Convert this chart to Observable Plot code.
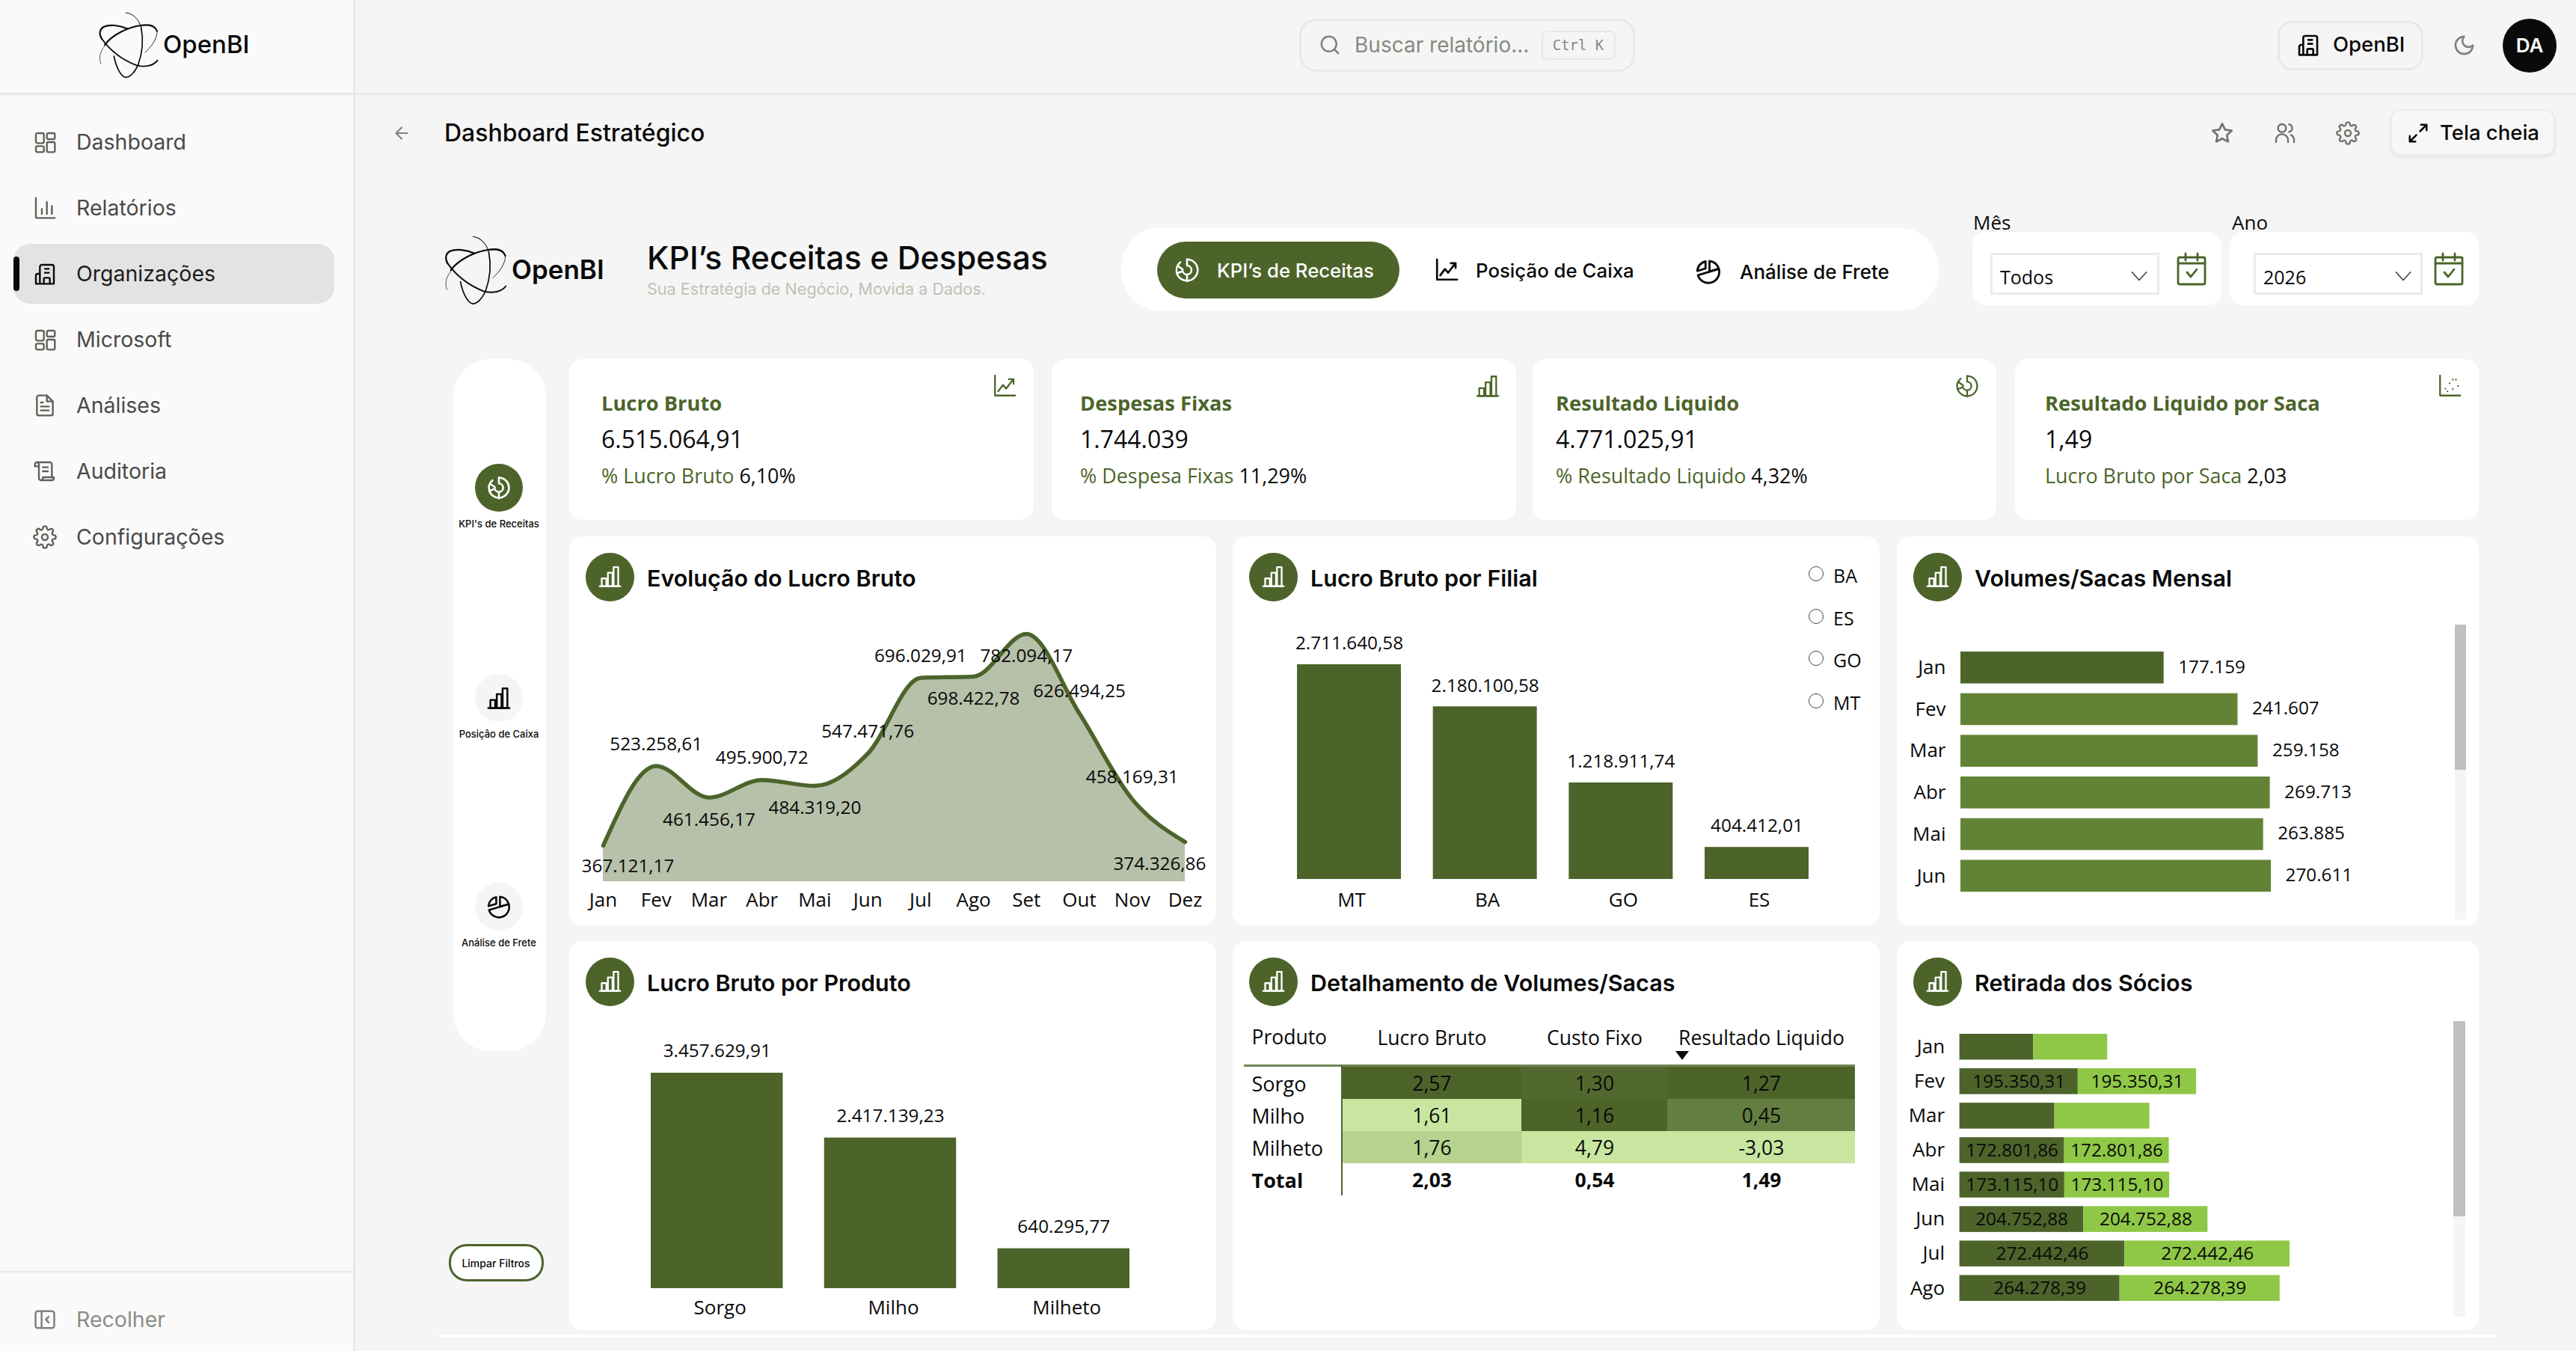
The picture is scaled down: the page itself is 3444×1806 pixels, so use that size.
<!DOCTYPE html>
<html lang="pt-BR">
<head>
<meta charset="utf-8">
<title>Dashboard Estratégico</title>
<script src="https://cdn.jsdelivr.net/npm/d3@7"></script>
<script src="https://cdn.jsdelivr.net/npm/@observablehq/plot@0.6"></script>
<style>
html,body{margin:0;padding:0;background:#f5f5f5}
body{width:3444px;height:1806px;position:relative;overflow:hidden;font-family:Inter,sans-serif;color:#0a0a0a}
.box{position:absolute;box-sizing:border-box}
.t{position:absolute;white-space:nowrap;transform:translateY(-50%);line-height:1}
.tc{position:absolute;white-space:nowrap;transform:translate(-50%,-50%);line-height:1}
.ic{position:absolute;overflow:visible;fill:none;stroke-linecap:round;stroke-linejoin:round}
.plot{position:absolute}
.plot svg{display:block;background:transparent;overflow:visible}
</style>
</head>
<body>
<script>
// ---------- data ----------
const months = ["Jan","Fev","Mar","Abr","Mai","Jun","Jul","Ago","Set","Out","Nov","Dez"];
const lucroMensal = [367121.17,523258.61,461456.17,495900.72,484319.20,547471.76,696029.91,698422.78,782094.17,626494.25,458169.31,374326.86];
const labelsAcima = ["Fev","Abr","Jun","Jul","Out","Nov"];
const labelsAbaixo = ["Mar","Mai","Ago","Set"];

const filiais = ["MT","BA","GO","ES"];
const lucroFilial = [2711640.58,2180100.58,1218911.74,404412.01];
const legendaFiliais = ["BA","ES","GO","MT"];

const volumeMeses = ["Jan","Fev","Mar","Abr","Mai","Jun"];
const volumes = [177159,241607,259158,269713,263885,270611];

const produtos = ["Sorgo","Milho","Milheto"];
const lucroProduto = [3457629.91,2417139.23,640295.77];

const linhasTabela = ["Sorgo","Milho","Milheto","Total"];
const lucroSaca = [2.57,1.61,1.76,2.03];
const custoSaca = [1.30,1.16,4.79,0.54];
const resultadoSaca = [1.27,0.45,-3.03,1.49];

const retiradaMeses = ["Jan","Fev","Mar","Abr","Mai","Jun","Jul","Ago"];
const retirada = [122000,195350.31,156800,172801.86,173115.10,204752.88,272442.46,264278.39];
const retiradaSemRotulo = ["Jan","Mar"];

const kpis = [
  ["Lucro Bruto","6.515.064,91","% Lucro Bruto","6,10%"],
  ["Despesas Fixas","1.744.039","% Despesa Fixas","11,29%"],
  ["Resultado Liquido","4.771.025,91","% Resultado Liquido","4,32%"],
  ["Resultado Liquido por Saca","1,49","Lucro Bruto por Saca","2,03"]
];
const menu = ["Dashboard","Relatórios","Organizações","Microsoft","Análises","Auditoria","Configurações"];

// ---------- helpers ----------
const DARK="#4c642a", MID="#628335", LIGHT="#8fc846", BAND="Open Sans, sans-serif";
const fmt2 = d3.formatLocale({decimal:",",thousands:".",grouping:[3],currency:["",""]}).format(",.2f");
const fmt0 = d3.formatLocale({decimal:",",thousands:".",grouping:[3],currency:["",""]}).format(",.0f");
const body=document.body;
function box(x,y,w,h,st=""){const d=document.createElement("div");d.className="box";d.style.cssText=`left:${x}px;top:${y}px;width:${w}px;height:${h}px;${st}`;body.appendChild(d);return d}
function txt(x,y,s,st="",cls="t"){const d=document.createElement("div");d.className=cls;d.style.cssText=`left:${x}px;top:${y}px;${st}`;d.innerHTML=s;body.appendChild(d);return d}
function icon(x,y,size,color,inner,sw=2){const d=document.createElementNS("http://www.w3.org/2000/svg","svg");d.setAttribute("class","ic");d.setAttribute("viewBox","0 0 24 24");d.setAttribute("width",size);d.setAttribute("height",size);d.style.left=x+"px";d.style.top=y+"px";d.style.stroke=color;d.style.strokeWidth=sw;d.innerHTML=inner;body.appendChild(d);return d}
function place(p,x,y){const d=document.createElement("div");d.className="plot";d.style.left=x+"px";d.style.top=y+"px";d.appendChild(p);body.appendChild(d)}
const I={
 grid:'<rect x="3" y="3" width="8" height="10" rx="1.5"/><rect x="14" y="3" width="8" height="6" rx="1.5"/><rect x="14" y="12" width="8" height="10" rx="1.5"/><rect x="3" y="16" width="8" height="6" rx="1.5"/>',
 report:'<path d="M3 2v19a1 1 0 0 0 1 1h18"/><path d="M9 18v-5M14 18V6M19 18v-8"/>',
 build:'<path d="M7 22V5a2 2 0 0 1 2-2h10a2 2 0 0 1 2 2v17H3v-8a2 2 0 0 1 2-2h2"/><path d="M12 7h4M12 11h4M11 22v-5a1 1 0 0 1 1-1h4a1 1 0 0 1 1 1v5"/>',
 file:'<path d="M14 2H6a2 2 0 0 0-2 2v16a2 2 0 0 0 2 2h12a2 2 0 0 0 2-2V8Z"/><path d="M14 2v6h6M8 13h8M8 17h8M8 9h2"/>',
 scroll:'<path d="M8 21h11a2 2 0 0 0 2-2v-1H10v1a2 2 0 0 1-4 0V5a2 2 0 0 0-2-2"/><path d="M19 18V5a2 2 0 0 0-2-2H4a2 2 0 0 0-2 2v2h4M10 8h5M10 12h5"/>',
 gear:'<circle cx="12" cy="12" r="3"/><path d="M19.4 15a1.65 1.65 0 0 0 .33 1.82l.06.06a2 2 0 1 1-2.83 2.83l-.06-.06a1.65 1.65 0 0 0-1.82-.33 1.65 1.65 0 0 0-1 1.51V21a2 2 0 1 1-4 0v-.09A1.65 1.65 0 0 0 9 19.4a1.65 1.65 0 0 0-1.82.33l-.06.06a2 2 0 1 1-2.83-2.83l.06-.06A1.65 1.65 0 0 0 4.68 15a1.65 1.65 0 0 0-1.51-1H3a2 2 0 1 1 0-4h.09A1.65 1.65 0 0 0 4.6 9a1.65 1.65 0 0 0-.33-1.82l-.06-.06a2 2 0 1 1 2.83-2.83l.06.06A1.65 1.65 0 0 0 9 4.68a1.65 1.65 0 0 0 1-1.51V3a2 2 0 1 1 4 0v.09a1.65 1.65 0 0 0 1 1.51 1.65 1.65 0 0 0 1.82-.33l.06-.06a2 2 0 1 1 2.83 2.83l-.06.06A1.65 1.65 0 0 0 19.4 9a1.65 1.65 0 0 0 1.51 1H21a2 2 0 1 1 0 4h-.09a1.65 1.65 0 0 0-1.51 1Z"/>',
 bars:'<path d="M2 21.5h20"/><rect x="4" y="14" width="4.5" height="7.5"/><rect x="10" y="8.5" width="4.5" height="13"/><rect x="15.5" y="3" width="4.5" height="18.5"/>',
 line:'<path d="M3 2v19h19"/><path d="M6 17l4.5-6 3 3.5L20 6M16 5.5h4.5V10"/>',
 donut:'<path d="M12 2.5a9.5 9.5 0 1 1-9 12.5"/><path d="M12 2.5V8a4 4 0 1 1-3.9 5L3 15a9.5 9.5 0 0 1 3-10"/><path d="M8.2 11.5 4 8.5"/><path d="M12 16v6"/>',
 pie:'<path d="M13 2.600A9.500 9.500 0 0 1 21.300 9.600L13 12Z"/><path d="M21.300 9.600A9.500 9.500 0 0 1 2.700 15.200Z"/><path d="M9.500 3A9 9 0 0 0 2.200 11.500L9.500 9.300Z"/>',
 scatter:'<path d="M3 2v19a0 0 0 0 0 0 0h19"/><path d="M8 14.500h.01M12 9.500h.01M15 15h.01M18 6h.01M20 12h.01M10 17h.01M15 6h.01"/>',
 search:'<circle cx="11" cy="11" r="8"/><path d="m21 21-4.300-4.300"/>',
 moon:'<path d="M12 3a6 6 0 0 0 9 9 9 9 0 1 1-9-9Z"/>',
 star:'<path d="M12 2.500l2.900 6 6.600.9-4.800 4.600 1.200 6.500L12 17.400l-5.900 3.100 1.200-6.500L2.500 9.400l6.600-.9Z"/>',
 users:'<circle cx="9" cy="7" r="4"/><path d="M3 21v-2a6 6 0 0 1 12 0v2M16 3.100a4 4 0 0 1 0 7.800M21 21v-2a6 6 0 0 0-3-5.200"/>',
 expand:'<path d="M14 10l7-7M21 3h-6M21 3v6M10 14l-7 7M3 21h6M3 21v-6"/>',
 back:'<path d="M19 12H5M12 19l-7-7 7-7"/>',
 cal:'<rect x="3" y="4" width="18" height="18" rx="1"/><path d="M8 1.500V6M16 1.500V6M3 8h18M9 14l2.500 3 4-5"/>',
 chev:'<path d="M3 8l9 10 9-10"/>',
 collapse:'<rect x="2" y="3" width="20" height="18" rx="2.500"/><path d="M8.500 3v18M16 9l-3 3 3 3"/>'
};
function logo(x,y,w,h,tx,ty,fs,weight){
 const s=document.createElementNS("http://www.w3.org/2000/svg","svg");
 s.setAttribute("viewBox","0 0 330 300");s.setAttribute("width",w);s.setAttribute("height",h);s.style.cssText=`position:absolute;left:${x}px;top:${y}px;overflow:visible`;
 s.innerHTML=`<g fill="none" stroke="#0a0a0a" stroke-linecap="round">
  <path d="M145 21C175 24 198 50 206 80" stroke-width="3"/>
  <path d="M206 80C216 130 212 180 194 230" stroke-width="5"/>
  <path d="M194 230C180 262 160 280 145 280C125 278 106 240 97 195" stroke-width="5"/>
  <path d="M60 150C90 110 150 80 205 72C240 66 262 72 270 95" stroke-width="6.500"/>
  <path d="M270 95C272 125 245 160 222 180" stroke-width="2.500"/>
  <path d="M150 85C120 72 80 66 55 78C40 88 36 105 48 125" stroke-width="6.500"/>
  <path d="M48 125C80 170 130 210 190 233C220 240 255 235 272 212" stroke-width="5.500"/>
  <path d="M62 152C42 175 35 200 45 226" stroke-width="2"/></g>`;
 body.appendChild(s);
 txt(tx,ty,"OpenBI",`font-size:${fs}px;font-weight:${weight}`);
}

// ---------- chrome ----------
box(0,0,475,1806,"background:#fafafa;border-right:3px solid #e8e8e8");
box(0,124,3444,3,"background:#e8e8e8");
box(0,1699,473,2,"background:#e8e8e8");
box(586,1784,2753,4,"background:#fff;border-radius:0 0 8px 8px");
logo(120,10,110,100,218,59,33,500);
const icons=[I.grid,I.report,I.build,I.grid,I.file,I.scroll,I.gear];
box(18,326,429,80,"background:#e3e3e3;border-radius:22px");
box(18,343,8,46,"background:#0a0a0a;border-radius:4px");
menu.forEach((m,i)=>{
 const y=190+88*i, act=i===2;
 icon(44,y-16,32,act?"#0a0a0a":"#5e6359",icons[i],1.8);
 txt(102,y,m,`font-size:28.500px;color:${act?"#1c1c1c":"#4a4a4a"}`);
});
icon(45,1749,30,"#7f837b",I.collapse,2);
txt(102,1764,"Recolher","font-size:28.500px;color:#8a8e86");

box(1737,25,449,71,"border:3px solid #e8e8e8;border-radius:22px");
icon(1763,45,30,"#7f837b",I.search,2);
txt(1811,60,"Buscar relatório...","font-size:28px;color:#858a80");
box(2061,41,99,39,"border:2px solid #e8e8e8;border-radius:7px");
txt(2110,60,"Ctrl K","font-family:DejaVu Sans Mono;font-size:19px;color:#85897f","tc");
box(3045,28,195,66,"border:3px solid #e8e8e8;border-radius:20px");
icon(3070,44,32,"#0a0a0a",I.build,2);
txt(3119,60,"OpenBI","font-size:27.500px;font-weight:500");
icon(3279,45,31,"#7f837b",I.moon,2);
box(3346,25,72,72,"background:#0a0a0a;border-radius:50%");
txt(3382,61,"DA","font-size:26px;font-weight:600;color:#fff","tc");

icon(524,165,26,"#7f837b",I.back,2);
txt(594,178,"Dashboard Estratégico","font-size:32px;font-weight:500");
icon(2955,162,32,"#6f746b",I.star,2);
icon(3039,162,32,"#6f746b",I.users,1.8);
icon(3123,162,32,"#6f746b",I.gear,1.8);
box(3196,146,220,62,"border:2px solid #ebebeb;border-radius:14px;background:#f7f7f7;box-shadow:0 2px 4px rgba(0,0,0,.08)");
icon(3218,163,30,"#0a0a0a",I.expand,2);
txt(3262,178,"Tela cheia","font-size:27.500px;font-weight:500");

logo(581.500,308.500,114.400,104,684,360,35,600);
txt(865,345,"KPI’s Receitas e Despesas","font-size:42.800px;font-weight:500");
txt(865,387,"Sua Estratégia de Negócio, Movida a Dados.","font-size:21.600px;color:#bcc3b4");

box(1499,304,1093,112,"background:#fff;border-radius:54px");
box(1547,323,324,76,`background:${DARK};border-radius:38px`);
icon(1569,343,36,"#fff",I.donut,1.700);
txt(1627,362,"KPI’s de Receitas","font-size:25.700px;font-weight:500;color:#fff");
icon(1917,344,34,"#0a0a0a",I.line,1.900);
txt(1973,362,"Posição de Caixa","font-size:25.800px;font-weight:500");
icon(2266,345,36,"#0a0a0a",I.pie,1.900);
txt(2326,364,"Análise de Frete","font-size:26px;font-weight:500");

[[2637,2661,"Mês","Todos",2860,2910],[2981,3013,"Ano","2026",3213,3254]].forEach(([bx,sx,lab,val,cx,ix])=>{
 txt(bx+(lab==="Ano"?3:1),297,lab,"font-size:26px;font-family:"+BAND);
 box(bx,310,333,98,"background:#fff;border-radius:18px");
 box(sx,338,226,56,"border:3px solid #ebebeb");
 txt(sx+13,370,val,"font-size:25px;font-family:"+BAND);
 icon(cx-13,355,26,"#333",I.chev,1.300);
 icon(ix-4,336,48,DARK,I.cal,1.400);
});

// rail
box(606,480,124,925,"background:#fff;border-radius:50px");
[[652,I.donut,"KPI's de Receitas",true,700],[933,I.bars,"Posição de Caixa",false,981],[1212,I.pie,"Análise de Frete",false,1260]].forEach(([y,ic,lab,act,ly])=>{
 box(635,y-32,64,64,`border-radius:50%;background:${act?DARK:"#f5f5f5"}`);
 icon(650,y-17,34,act?"#fff":"#0a0a0a",ic,1.800);
 txt(667,ly,lab,"font-size:13px;font-weight:500","tc");
});
box(600,1663,127,50,`border:3px solid ${DARK};border-radius:24px;background:#fff`);
txt(663,1689,"Limpar Filtros","font-size:14px;font-weight:500","tc");

// KPI cards
const kpiCards=[[761,621,804,1328,I.line],[1406,621,1444,1974,I.bars],[2049,620,2080,2615,I.donut],[2694,620,2734,3260,I.scatter]];
kpis.forEach((k,i)=>{
 const [cx,cw,tx,ix,ic]=kpiCards[i];
 box(cx,480,cw,215,"background:#fff;border-radius:18px");
 icon(ix-2,499,34,DARK,ic,1.600);
 txt(tx,539,k[0],`font-family:${BAND};font-size:27.300px;font-weight:700;color:${DARK}`);
 txt(tx,587,k[1],`font-family:${BAND};font-size:32px;color:#0a0a0a`);
 txt(tx,636,`<span style="color:${DARK}">${k[2]}</span> ${k[3]}`,`font-family:${BAND};font-size:26.900px;color:#0a0a0a`);
});

// chart cards
const cards=[[761,717,865,"Evolução do Lucro Bruto"],[1648,717,865,"Lucro Bruto por Filial"],[2536,717,778,"Volumes/Sacas Mensal"],
             [761,1258,865,"Lucro Bruto por Produto"],[1648,1258,865,"Detalhamento de Volumes/Sacas"],[2536,1258,778,"Retirada dos Sócios"]];
cards.forEach(([x,y,w,title])=>{
 box(x,y,w,520,"background:#fff;border-radius:18px");
 box(x+22,y+22,65,65,`background:${DARK};border-radius:50%`);
 icon(x+38,y+37,33,"#fff",I.bars,1.700);
 txt(x+104,y+56,title,"font-size:30.500px;font-weight:600");
});

// ---------- plots ----------
const base={style:{background:"transparent",fontFamily:BAND,color:"#0a0a0a"}};
const labelFont=24.300, tickFont=26;

// Evolução do Lucro Bruto
const yBase=296700;
const evol=months.map((m,i)=>({m,v:lucroMensal[i]}));
place(Plot.plot({...base,width:865,height:520,marginLeft:45,marginRight:42,marginTop:130,marginBottom:59,
 x:{type:"point",domain:months,padding:0,round:false},y:{domain:[yBase,d3.max(lucroMensal)],axis:null},
 marks:[
  Plot.areaY(evol,{x:"m",y1:()=>yBase,y2:"v",curve:"monotone-x",fill:DARK,fillOpacity:.4}),
  Plot.lineY(evol,{x:"m",y:"v",curve:"monotone-x",stroke:DARK,strokeWidth:5.500}),
  Plot.text(evol.filter(d=>labelsAcima.includes(d.m)),{x:"m",y:"v",text:d=>fmt2(d.v),dy:-29,fontSize:labelFont,fill:"#0a0a0a"}),
  Plot.text(evol.filter(d=>labelsAbaixo.includes(d.m)),{x:"m",y:"v",text:d=>fmt2(d.v),dy:30,fontSize:labelFont,fill:"#0a0a0a"}),
  Plot.text(evol.filter(d=>d.m==="Jan"),{x:"m",y:"v",text:d=>fmt2(d.v),dx:33,dy:28,fontSize:labelFont,fill:"#0a0a0a"}),
  Plot.text(evol.filter(d=>d.m==="Dez"),{x:"m",y:"v",text:d=>fmt2(d.v),dx:-34,dy:30,fontSize:labelFont,fill:"#0a0a0a"}),
  Plot.axisX({domain:months,tickSize:0,tickPadding:15,fontSize:tickFont,label:null})
 ]}),761,717);

// Lucro Bruto por Filial
const fil=filiais.map((f,i)=>({f,v:lucroFilial[i]}));
place(Plot.plot({...base,width:865,height:520,marginLeft:86,marginRight:95,marginTop:171,marginBottom:62,
 x:{domain:filiais,paddingInner:.235,paddingOuter:0,round:false},y:{domain:[0,d3.max(lucroFilial)],axis:null},
 marks:[
  Plot.barY(fil,{x:"f",y:"v",fill:DARK}),
  Plot.text(fil,{x:"f",y:"v",text:d=>fmt2(d.v),dy:-28,fontSize:labelFont,fill:"#0a0a0a"}),
  Plot.axisX({tickSize:0,tickPadding:18,fontSize:tickFont,label:null,dx:3})
 ]}),1648,717);
legendaFiliais.forEach((f,i)=>{
 const y=767+56.700*i;
 box(2418,y-10,20,20,"border:1.500px solid #444;border-radius:50%");
 txt(2451,y+2,f,`font-family:${BAND};font-size:25px`);
});

// Volumes/Sacas Mensal
const vol=volumeMeses.map((m,i)=>({m,v:volumes[i]}));
place(Plot.plot({...base,width:778,height:520,marginLeft:85,marginRight:278,marginTop:154,marginBottom:45,
 y:{domain:volumeMeses,paddingInner:.235,paddingOuter:0,round:false},x:{domain:[0,d3.max(volumes)],axis:null},
 marks:[
  Plot.barX(vol,{y:"m",x:"v",fill:d=>d.m==="Jan"?DARK:MID}),
  Plot.text(vol,{y:"m",x:"v",text:d=>fmt0(d.v),dx:19,dy:-1,textAnchor:"start",fontSize:labelFont,fill:"#0a0a0a"}),
  Plot.axisY({tickSize:0,tickPadding:20,fontSize:tickFont,label:null})
 ]}),2536,717);
box(3282,835,15,394,"background:#f5f5f5");
box(3282,835,15,194,"background:#c0c0c0");

// Lucro Bruto por Produto
const prod=produtos.map((p,i)=>({p,v:lucroProduto[i]}));
place(Plot.plot({...base,width:865,height:520,marginLeft:109,marginRight:116,marginTop:176,marginBottom:56,
 x:{domain:produtos,paddingInner:.2386,paddingOuter:0,round:false},y:{domain:[0,d3.max(lucroProduto)],axis:null},
 marks:[
  Plot.barY(prod,{x:"p",y:"v",fill:DARK}),
  Plot.text(prod,{x:"p",y:"v",text:d=>fmt2(d.v),dy:-29,fontSize:labelFont,fill:"#0a0a0a"}),
  Plot.axisX({tickSize:0,tickPadding:16,fontSize:tickFont,label:null,dx:4})
 ]}),761,1258);

// Detalhamento de Volumes/Sacas: one Plot per column, colour scale per column
const fmtT=d3.formatLocale({decimal:",",thousands:".",grouping:[3],currency:["",""],minus:"-"}).format(".2f");
function coluna(nome,valores,width,x,reverso){
 const rows=linhasTabela.map((p,i)=>({p,v:valores[i]}));
 const body3=rows.slice(0,3), vs=body3.map(d=>d.v);
 const dom=[d3.min(vs),d3.max(vs)]; if(reverso) dom.reverse();
 place(Plot.plot({...base,width,height:238,marginLeft:0,marginRight:0,marginTop:66,marginBottom:0,
  x:{domain:[nome],padding:0,axis:null,round:false},y:{domain:linhasTabela,padding:0,axis:null,round:false},
  color:{type:"linear",domain:dom,range:["#c8e6a0",DARK],interpolate:"rgb"},
  marks:[
   Plot.cell(body3,{x:()=>nome,y:"p",fill:"v"}),
   Plot.text(body3,{x:()=>nome,y:"p",text:d=>fmtT(d.v),dy:2,fontSize:26.500,fill:"#0a0a0a"}),
   Plot.text(rows.slice(3),{x:()=>nome,y:"p",text:d=>fmtT(d.v),dy:2,fontSize:26.500,fontWeight:700,fill:"#0a0a0a"}),
   Plot.axisX({anchor:"top",tickSize:0,tickPadding:30,fontSize:26.500,label:null})
  ]}),x,1360);
}
coluna("Lucro Bruto",lucroSaca,240,1794,false);
coluna("Custo Fixo",custoSaca,195,2034,true);
coluna("Resultado Liquido",resultadoSaca,251,2229,false);
place(Plot.plot({...base,width:131,height:238,marginLeft:0,marginRight:0,marginTop:66,marginBottom:0,
 x:{type:"band",domain:["Produto"],padding:0,axis:null,round:false},y:{type:"band",domain:linhasTabela,padding:0,axis:null,round:false},
 marks:[
  Plot.text(linhasTabela.slice(0,3),{y:d=>d,text:d=>d,frameAnchor:"left",dx:10,dy:2,fontSize:27,fill:"#0a0a0a"}),
  Plot.text(linhasTabela.slice(3),{y:d=>d,text:d=>d,frameAnchor:"left",dx:10,dy:2,fontSize:27,fontWeight:700,fill:"#0a0a0a"}),
  Plot.text(["Produto"],{text:d=>d,frameAnchor:"top-left",lineAnchor:"middle",dx:10,dy:-39,fontSize:26.500,fill:"#0a0a0a"})
 ]}),1663,1360);
box(1663,1423,817,3,"background:#6f8454");
box(1793,1424,2,174,`background:${DARK}`);
txt(2249,1411,'<svg width="18" height="12" style="display:block"><path d="M0 0H18L9 12Z" fill="#0a0a0a"/></svg>',"","tc");

// Retirada dos Sócios
const ret=retiradaMeses.flatMap((m,i)=>[{m,s:"a",v:retirada[i]},{m,s:"b",v:retirada[i]}]);
const retLab=ret.filter(d=>!retiradaSemRotulo.includes(d.m));
place(Plot.plot({...base,width:778,height:520,marginLeft:83.600,marginRight:253,marginTop:124,marginBottom:39,
 y:{domain:retiradaMeses,paddingInner:.25,paddingOuter:0,round:false},x:{domain:[0,2*d3.max(retirada)],axis:null},
 color:{domain:["a","b"],range:[DARK,LIGHT]},
 marks:[
  Plot.barX(ret,{y:"m",x:"v",z:"s",fill:"s"}),
  Plot.text(retLab,Plot.stackX({y:"m",x:"v",z:"s",text:d=>fmt2(d.v),fontSize:labelFont,fill:"#0a0a0a"})),
  Plot.axisY({tickSize:0,tickPadding:20,fontSize:tickFont,label:null})
 ]}),2536,1258);
box(3280,1365,16,395,"background:#f5f5f5");
box(3280,1365,16,261,"background:#c0c0c0");
</script>
</body>
</html>
